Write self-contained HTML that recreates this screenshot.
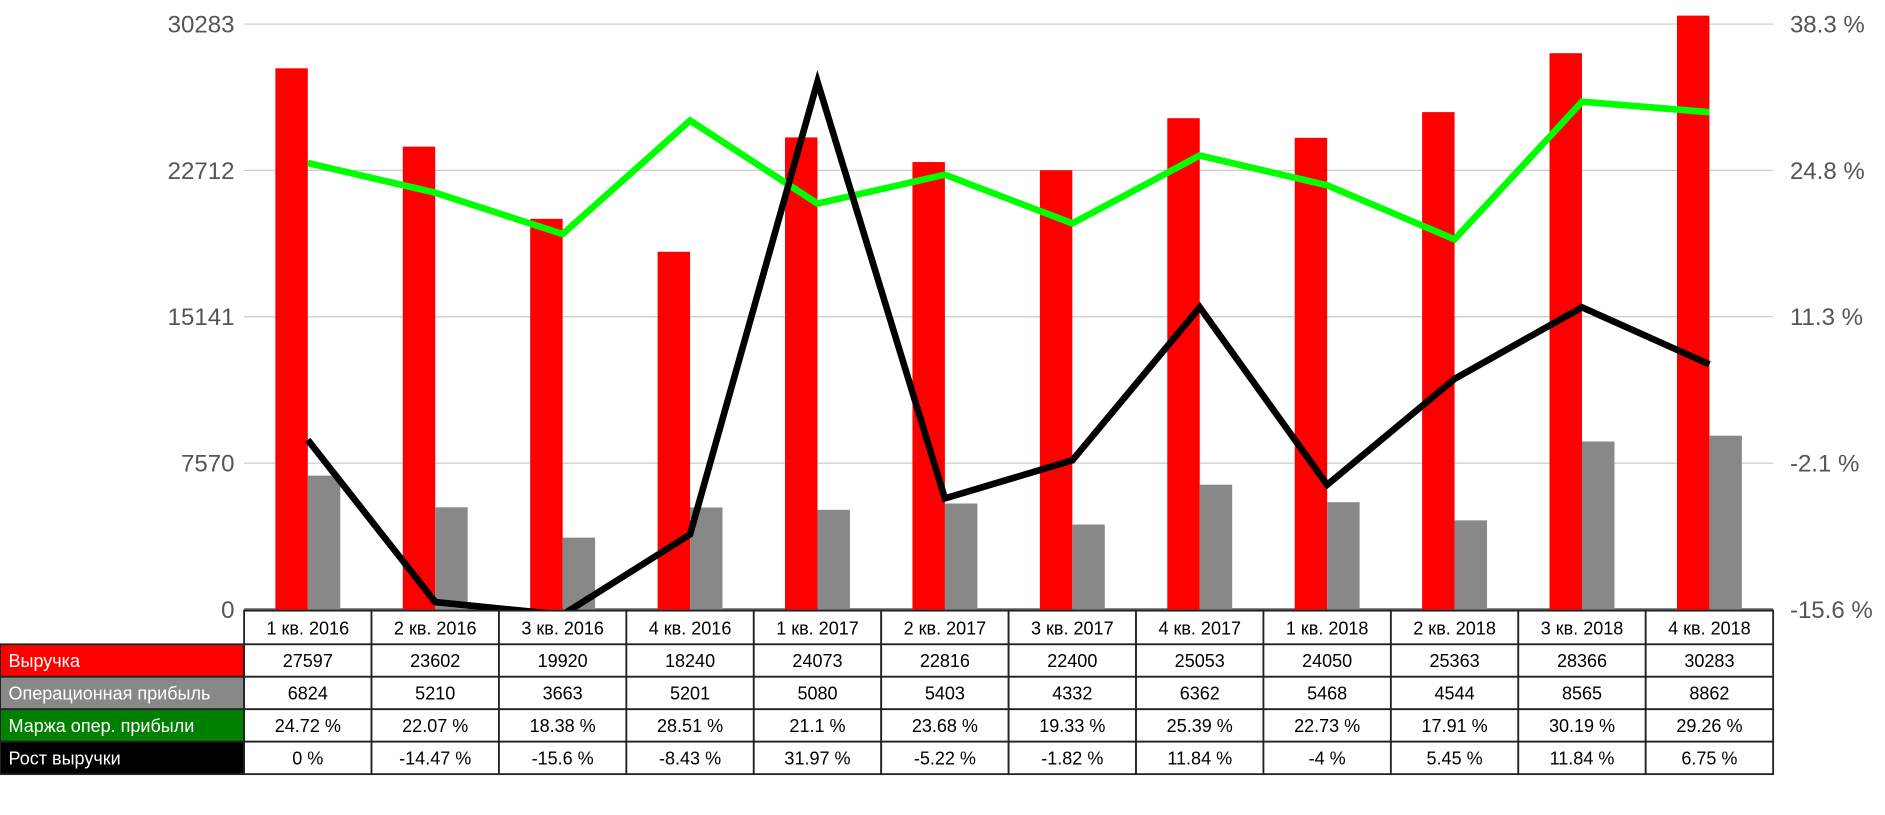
<!DOCTYPE html>
<html><head><meta charset="utf-8"><style>
html,body{margin:0;padding:0;background:#fff;}
svg{display:block;font-family:"Liberation Sans",Arial,sans-serif;}
</style></head><body>
<svg id="chart" width="1885" height="815" viewBox="0 0 1568 678" xmlns="http://www.w3.org/2000/svg">
<g id="grid"></g><g id="bars"></g><g id="lines"></g><g id="axes"></g><g id="table"></g>
</svg>
<script>
const categories=["1 кв. 2016","2 кв. 2016","3 кв. 2016","4 кв. 2016","1 кв. 2017","2 кв. 2017","3 кв. 2017","4 кв. 2017","1 кв. 2018","2 кв. 2018","3 кв. 2018","4 кв. 2018"];
const revenue=[27597,23602,19920,18240,24073,22816,22400,25053,24050,25363,28366,30283];
const opProfit=[6824,5210,3663,5201,5080,5403,4332,6362,5468,4544,8565,8862];
const margin=[24.72,22.07,18.38,28.51,21.1,23.68,19.33,25.39,22.73,17.91,30.19,29.26];
const growth=[0,-14.47,-15.6,-8.43,31.97,-5.22,-1.82,11.84,-4,5.45,11.84,6.75];
const leftTicks=[0,7570,15141,22712,30283];
const rightTicks=["-15.6 %","-2.1 %","11.3 %","24.8 %","38.3 %"];
const leftMax=30283;

const NS="http://www.w3.org/2000/svg";
const X0=203, COLW=106, Y0=507, YT=20;
const yGrid=v=>Y0-(v/leftMax)*(Y0-YT);
const yL=v=>Y0-(v/leftMax)*494;
const yR=v=>366-v*9.32;
const xC=i=>X0+COLW*i+COLW/2;
function mk(tag,attrs,parent){const e=document.createElementNS(NS,tag);for(const k in attrs)e.setAttribute(k,attrs[k]);parent.appendChild(e);return e;}
const G=id=>document.getElementById(id);

leftTicks.forEach((t,i)=>{
  const y=yGrid(t);
  const l=mk('line',{x1:X0,x2:1475,y1:y,y2:y,stroke:i===0?'#666':'#ccc','stroke-width':i===0?2:1},G('grid'));
  
  
  const tl=mk('text',{x:195,y:y+7,'text-anchor':'end','font-size':20,fill:'#555'},G('axes'));
  tl.textContent=t;
  
  
  const tr=mk('text',{x:1489,y:y+7,'font-size':20,fill:'#555'},G('axes'));
  tr.textContent=rightTicks[i];
  
  
});

categories.forEach((c,i)=>{
  const cx=xC(i);
  const r=mk('rect',{x:cx-27,y:yL(revenue[i]),width:27,height:Y0-yL(revenue[i]),fill:'#ff0000'},G('bars'));
  
  
  const g=mk('rect',{x:cx,y:yL(opProfit[i]),width:27,height:Y0-yL(opProfit[i]),fill:'#888888'},G('bars'));
  
  
});

function line(vals,color,name){
  const p=mk('polyline',{points:vals.map((v,i)=>xC(i)+','+yR(v)).join(' '),fill:'none',stroke:color,'stroke-width':5.5,'stroke-linejoin':'miter'},G('lines'));
  
  
}
line(margin,'#00ff00','margin-line');
line(growth,'#000000','revenue-growth-line');

const rows=[["Выручка","#ff0000",revenue.map(String)],["Операционная прибыль","#888888",opProfit.map(String)],["Маржа опер. прибыли","#008000",margin.map(v=>v+" %")],["Рост выручки","#000000",growth.map(v=>v+" %")]];
const RH=27, TY=508;
const tb=G('table');
categories.forEach((c,i)=>{
  const r=mk('rect',{x:X0+COLW*i,y:TY,width:COLW,height:28,fill:'#fff',stroke:'#222','stroke-width':1.5},tb);
  
  
  const t=mk('text',{x:xC(i),y:TY+20,'text-anchor':'middle','font-size':15,fill:'#000'},tb);
  t.textContent=c;
  
  
});
rows.forEach((row,ri)=>{
  const y=TY+28+RH*ri;
  const lc=mk('rect',{x:0,y:y,width:X0,height:RH,fill:row[1],stroke:'#222','stroke-width':1.5},tb);
  
  
  const lt=mk('text',{x:7,y:y+19,'font-size':15,fill:'#fff'},tb);
  lt.textContent=row[0];
  
  
  row[2].forEach((v,i)=>{
    const c=mk('rect',{x:X0+COLW*i,y:y,width:COLW,height:RH,fill:'#fff',stroke:'#222','stroke-width':1.5},tb);
    
    
    const t=mk('text',{x:xC(i),y:y+19,'text-anchor':'middle','font-size':15,fill:'#000'},tb);
    t.textContent=v;
    
    
  });
});
</script>
</body></html>
